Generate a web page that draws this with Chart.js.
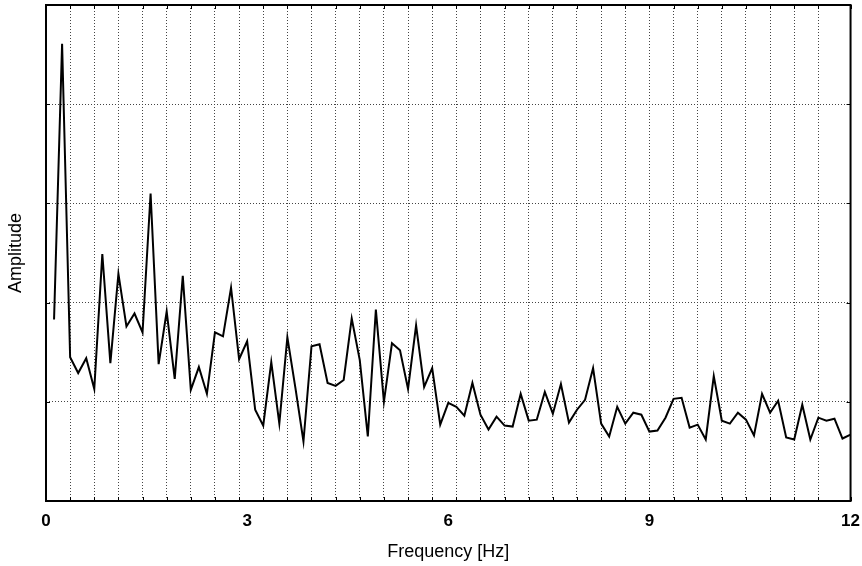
<!DOCTYPE html>
<html>
<head>
<meta charset="utf-8">
<script src="https://cdn.jsdelivr.net/npm/chart.js@4.4.1/dist/chart.umd.min.js"></script>
<style>
  html, body { margin: 0; padding: 0; background: #fff; }
  #wrap { width: 862px; height: 566px; }
</style>
</head>
<body>
<div id="wrap"><canvas id="spectrum"></canvas></div>
<script>
// spectrum bins (Hz) and amplitudes
const freqs = [
  0.12, 0.24, 0.36, 0.48, 0.60, 0.72, 0.84, 0.96, 1.08, 1.20,
  1.32, 1.44, 1.56, 1.68, 1.80, 1.92, 2.04, 2.16, 2.28, 2.40,
  2.52, 2.64, 2.76, 2.88, 3.00, 3.12, 3.24, 3.36, 3.48, 3.60,
  3.72, 3.84, 3.96, 4.08, 4.20, 4.32, 4.44, 4.56, 4.68, 4.80,
  4.92, 5.04, 5.16, 5.28, 5.40, 5.52, 5.64, 5.76, 5.88, 6.00,
  6.12, 6.24, 6.36, 6.48, 6.60, 6.72, 6.84, 6.96, 7.08, 7.20,
  7.32, 7.44, 7.56, 7.68, 7.80, 7.92, 8.04, 8.16, 8.28, 8.40,
  8.52, 8.64, 8.76, 8.88, 9.00, 9.12, 9.24, 9.36, 9.48, 9.60,
  9.72, 9.84, 9.96, 10.08, 10.20, 10.32, 10.44, 10.56, 10.68, 10.80,
  10.92, 11.04, 11.16, 11.28, 11.40, 11.52, 11.64, 11.76, 11.88, 12.00
];
const amps = [
  1.83, 4.61, 1.45, 1.29, 1.44, 1.13, 2.49, 1.39, 2.29, 1.76,
  1.89, 1.70, 3.10, 1.38, 1.91, 1.23, 2.27, 1.12, 1.35, 1.08,
  1.70, 1.66, 2.15, 1.43, 1.61, 0.92, 0.76, 1.40, 0.78, 1.65,
  1.14, 0.60, 1.56, 1.58, 1.19, 1.16, 1.22, 1.84, 1.42, 0.65,
  1.93, 1.00, 1.59, 1.52, 1.13, 1.77, 1.15, 1.34, 0.77, 0.99,
  0.95, 0.86, 1.19, 0.87, 0.72, 0.85, 0.76, 0.75, 1.08, 0.81,
  0.82, 1.10, 0.88, 1.18, 0.79, 0.92, 1.02, 1.34, 0.78, 0.65,
  0.95, 0.78, 0.89, 0.87, 0.70, 0.71, 0.84, 1.03, 1.04, 0.74,
  0.77, 0.62, 1.26, 0.81, 0.78, 0.89, 0.82, 0.66, 1.08, 0.89,
  1.01, 0.64, 0.62, 0.97, 0.62, 0.84, 0.81, 0.83, 0.63, 0.67
];
const freqTicks = [0, 3, 6, 9, 12];
const gridStep = 0.36;   // dotted vertical grid every 3 bins
const ampMax = 5;

const FONT = "'Liberation Sans', Arial, sans-serif";

// box around the plot + small inward tick marks
const frame = {
  id: "frame",
  afterDraw(chart) {
    const { ctx, chartArea: a, scales } = chart;
    ctx.save();
    ctx.strokeStyle = "#000";
    ctx.lineWidth = 1;
    ctx.beginPath();
    scales.xg.ticks.forEach(t => {
      const px = Math.round(scales.xg.getPixelForValue(t.value)) + 0.5;
      ctx.moveTo(px, a.bottom); ctx.lineTo(px, a.bottom - 4);
      ctx.moveTo(px, a.top); ctx.lineTo(px, a.top + 4);
    });
    scales.y.ticks.forEach(t => {
      const py = Math.round(scales.y.getPixelForValue(t.value)) + 0.5;
      ctx.moveTo(a.left, py); ctx.lineTo(a.left + 4, py);
      ctx.moveTo(a.right, py); ctx.lineTo(a.right - 4, py);
    });
    ctx.stroke();
    ctx.lineWidth = 2;
    ctx.strokeRect(a.left, a.top, a.right - a.left, a.bottom - a.top);
    ctx.restore();
  }
};

new Chart(document.getElementById("spectrum"), {
  type: "line",
  data: {
    datasets: [{
      data: freqs.map((f, i) => ({ x: f, y: amps[i] })),
      borderColor: "#000",
      borderWidth: 2,
      pointRadius: 0,
      tension: 0
    }]
  },
  options: {
    responsive: true,
    maintainAspectRatio: false,
    animation: false,
    layout: { padding: { top: 5, right: 0, left: 0, bottom: 0 } },
    plugins: { legend: { display: false }, tooltip: { enabled: false } },
    scales: {
      x: {
        type: "linear", position: "bottom", min: 0, max: 12,
        afterBuildTicks: s => { s.ticks = freqTicks.map(v => ({ value: v })); },
        ticks: {
          color: "#000", padding: 2, maxRotation: 0, autoSkip: false,
          font: { size: 17, weight: "bold", family: FONT }
        },
        grid: { display: false },
        border: { display: false },
        title: {
          display: true, text: "Frequency [Hz]", color: "#000",
          font: { size: 18, family: FONT }, padding: { top: 4, bottom: 3 }
        },
        afterFit: s => { s.height = 65; }
      },
      xg: {
        type: "linear", position: "top", min: 0, max: 12,
        ticks: { display: false, stepSize: gridStep },
        grid: { color: "#444", lineWidth: 1, drawTicks: false },
        border: { display: false, dash: [1, 2] },
        afterFit: s => { s.height = 0; }
      },
      y: {
        min: 0, max: ampMax,
        ticks: { display: false, stepSize: 1 },
        grid: { color: "#444", lineWidth: 1, drawTicks: false },
        border: { display: false, dash: [1, 2] },
        title: {
          display: true, text: "Amplitude", color: "#000",
          font: { size: 18, family: FONT }, padding: { top: 5, bottom: 0 }
        },
        afterFit: s => { s.width = 46; }
      }
    }
  },
  plugins: [frame]
});
</script>
</body>
</html>
